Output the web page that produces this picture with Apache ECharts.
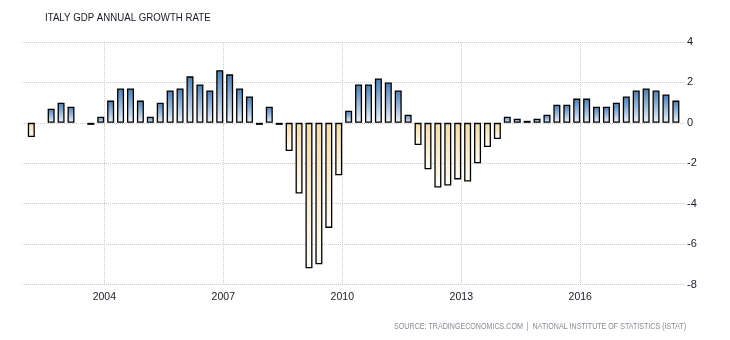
<!DOCTYPE html>
<html>
<head>
<meta charset="utf-8">
<script src="https://cdn.jsdelivr.net/npm/echarts@6/dist/echarts.min.js"></script>
<style>
html,body{margin:0;padding:0;background:#fff;}
#chart{width:730px;height:340px;}
</style>
</head>
<body>
<div id="chart"></div>
<script>
// Quarters Q1 2002 .. Q2 2018
var quarters = [
 '2002Q1','2002Q2','2002Q3','2002Q4',
 '2003Q1','2003Q2','2003Q3','2003Q4',
 '2004Q1','2004Q2','2004Q3','2004Q4',
 '2005Q1','2005Q2','2005Q3','2005Q4',
 '2006Q1','2006Q2','2006Q3','2006Q4',
 '2007Q1','2007Q2','2007Q3','2007Q4',
 '2008Q1','2008Q2','2008Q3','2008Q4',
 '2009Q1','2009Q2','2009Q3','2009Q4',
 '2010Q1','2010Q2','2010Q3','2010Q4',
 '2011Q1','2011Q2','2011Q3','2011Q4',
 '2012Q1','2012Q2','2012Q3','2012Q4',
 '2013Q1','2013Q2','2013Q3','2013Q4',
 '2014Q1','2014Q2','2014Q3','2014Q4',
 '2015Q1','2015Q2','2015Q3','2015Q4',
 '2016Q1','2016Q2','2016Q3','2016Q4',
 '2017Q1','2017Q2','2017Q3','2017Q4',
 '2018Q1','2018Q2'
];
var growth = [
 -0.7, 0.0, 0.7, 1.0,
 0.8, 0.0, -0.1, 0.3,
 1.1, 1.7, 1.7, 1.1,
 0.3, 1.0, 1.6, 1.7,
 2.3, 1.9, 1.6, 2.6,
 2.4, 1.7, 1.3, -0.1,
 0.8, -0.1, -1.4, -3.5,
 -7.2, -7.0, -5.2, -2.6,
 0.6, 1.9, 1.9, 2.2,
 2.0, 1.6, 0.4, -1.1,
 -2.3, -3.2, -3.1, -2.8,
 -2.9, -2.0, -1.2, -0.8,
 0.3, 0.2, 0.1, 0.2,
 0.4, 0.9, 0.9, 1.2,
 1.2, 0.8, 0.8, 1.0,
 1.3, 1.6, 1.7, 1.6,
 1.4, 1.1
];
var yearTicks = [2004, 2007, 2010, 2013, 2016];
var yTicks = [-8, -6, -4, -2, 0, 2, 4];

var titleText = 'ITALY GDP ANNUAL GROWTH RATE';
var sourceText = 'SOURCE: TRADINGECONOMICS.COM  |  NATIONAL INSTITUTE OF STATISTICS (ISTAT)';

var FONT = 'Liberation Sans, Arial, sans-serif';

// quarter label -> decimal year (date plotted late in the quarter)
function quarterToYear(q) {
  var y = parseInt(q.slice(0, 4), 10);
  var n = parseInt(q.slice(5), 10);
  return y + (n - 1) / 4 + 0.16;
}

var posGrad = new echarts.graphic.LinearGradient(0, 0, 0, 1, [
  {offset: 0, color: '#4a7db5'},
  {offset: 1, color: '#f0f5fb'}
]);
var negGrad = new echarts.graphic.LinearGradient(0, 0, 0, 1, [
  {offset: 0, color: '#f3dba9'},
  {offset: 1, color: '#fffdf8'}
]);

var barData = quarters.map(function (q, i) {
  var v = growth[i];
  return {
    value: [quarterToYear(q), v],
    itemStyle: {
      color: v >= 0 ? posGrad : negGrad,
      borderWidth: v === 0 ? 0 : 1.3
    }
  };
});

var chart = echarts.init(document.getElementById('chart'), null, {renderer: 'canvas'});
chart.setOption({
  animation: false,
  backgroundColor: '#ffffff',
  graphic: [{
    type: 'text',
    x: 45,
    y: 18,
    scaleX: 0.88,
    style: {
      text: titleText,
      font: 'normal 11px ' + FONT,
      fill: '#1a1a26',
      textAlign: 'left',
      textVerticalAlign: 'middle'
    }
  }, {
    type: 'text',
    x: 686,
    y: 327,
    scaleX: 0.79,
    style: {
      text: sourceText,
      font: 'normal 9px ' + FONT,
      fill: '#868c94',
      textAlign: 'right',
      textVerticalAlign: 'middle'
    }
  }],
  grid: {left: 22, right: 45, top: 42, bottom: 55.5, containLabel: false},
  xAxis: {
    type: 'value',
    min: 2001.925,
    max: 2018.64,
    axisLine: {show: false},
    axisTick: {show: true, length: 4, customValues: yearTicks, lineStyle: {color: '#cccccc', type: 'dotted'}},
    axisLabel: {
      customValues: yearTicks,
      margin: 7,
      fontFamily: FONT,
      fontSize: 10.5,
      color: '#1a1a26',
      formatter: function (v) { return String(Math.round(v)); }
    },
    splitLine: {show: true, lineStyle: {color: '#cccccc', type: 'dotted', width: 1}}
  },
  yAxis: {
    type: 'value',
    position: 'right',
    min: yTicks[0],
    max: yTicks[yTicks.length - 1],
    interval: 2,
    axisLine: {show: false},
    axisTick: {show: false},
    axisLabel: {
      margin: 2,
      fontFamily: FONT,
      fontSize: 11,
      color: '#1a1a26'
    },
    splitLine: {show: true, lineStyle: {color: '#cccccc', type: 'dotted', width: 1}}
  },
  series: [{
    type: 'bar',
    data: barData,
    barWidth: 7,
    itemStyle: {borderColor: '#000', borderWidth: 1.3}
  }]
});
</script>
</body>
</html>
